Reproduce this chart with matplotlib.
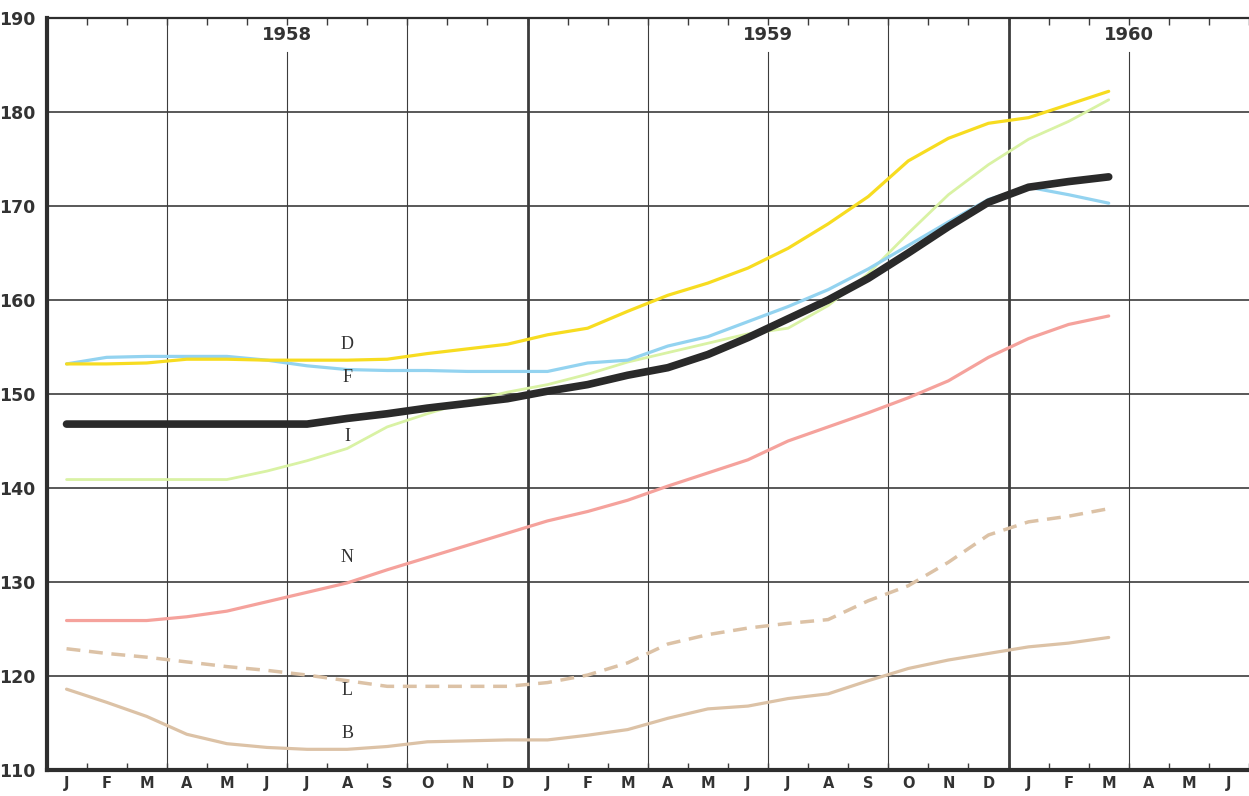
import matplotlib
matplotlib.use("Agg")
import matplotlib.pyplot as plt
import numpy as np

# month index 0 = Jan 1958
months = list("JFMAMJJASOND") * 2 + list("JFMAMJ")
years = ["1958", "1959", "1960"]
year_pos = [5.5, 17.5, 26.5]

x = np.arange(27)
total = [146.8, 146.8, 146.8, 146.8, 146.8, 146.8, 146.8, 147.4, 147.9, 148.5, 149.0, 149.5, 150.3, 151.0,
         152.0, 152.8, 154.2, 156.0, 158.0, 160.0, 162.3, 165.0, 167.8, 170.4, 172.0, 172.6, 173.1]
D = [153.2, 153.2, 153.3, 153.7, 153.7, 153.6, 153.6, 153.6, 153.7, 154.3, 154.8, 155.3, 156.3, 157.0,
     158.8, 160.5, 161.8, 163.4, 165.5, 168.1, 171.0, 174.8, 177.2, 178.8, 179.4, 180.8, 182.2]
F = [153.2, 153.9, 154.0, 154.0, 154.0, 153.6, 153.0, 152.6, 152.5, 152.5, 152.4, 152.4, 152.4, 153.3,
     153.6, 155.1, 156.1, 157.7, 159.3, 161.1, 163.3, 165.8, 168.3, 170.7, 172.0, 171.2, 170.3]
I = [140.9, 140.9, 140.9, 140.9, 140.9, 141.8, 142.9, 144.2, 146.5, 147.9, 149.2, 150.2, 151.0, 152.1,
     153.4, 154.4, 155.4, 156.4, 157.0, 159.4, 162.8, 167.1, 171.2, 174.4, 177.1, 179.0, 181.3]
N = [125.9, 125.9, 125.9, 126.3, 126.9, 127.9, 128.9, 129.9, 131.3, 132.6, 133.9, 135.2, 136.5, 137.5,
     138.7, 140.2, 141.6, 143.0, 145.0, 146.5, 148.0, 149.6, 151.4, 153.9, 155.9, 157.4, 158.3]
L = [122.9, 122.4, 122.0, 121.5, 121.0, 120.6, 120.1, 119.5, 118.9, 118.9, 118.9, 118.9, 119.3, 120.1,
     121.4, 123.4, 124.4, 125.1, 125.6, 126.0, 128.0, 129.6, 132.1, 135.0, 136.4, 137.0, 137.8]
B = [118.6, 117.2, 115.7, 113.8, 112.8, 112.4, 112.2, 112.2, 112.5, 113.0, 113.1, 113.2, 113.2, 113.7,
     114.3, 115.5, 116.5, 116.8, 117.6, 118.1, 119.5, 120.8, 121.7, 122.4, 123.1, 123.5, 124.1]

labels = ["D", "F", "I", "N", "L", "B"]
label_vals = [155.3, 151.8, 145.5, 132.6, 118.5, 113.9]

bold_font = ["Liberation Sans Narrow", "DejaVu Sans"]
grid_c = "#3c3c3c"

fig = plt.figure(figsize=(12.49, 7.96), dpi=100)
ax = fig.add_axes([46.5 / 1249, 1 - 770 / 796, 1 - 46.5 / 1249, (770 - 18) / 796])
ax.set_xlim(-0.5, 29.45)
ax.set_ylim(110, 190)

# grid
for v in range(120, 190, 10):
    ax.axhline(v, color=grid_c, lw=1.2, zorder=1)
for q in [2.5, 8.5, 14.5, 20.5]:
    ax.axvline(q, color=grid_c, lw=0.8, zorder=1)
for q in [11.5, 23.5]:
    ax.axvline(q, color=grid_c, lw=2.0, zorder=1)
for q, yr in zip(year_pos, years):
    ax.axvline(q, ymax=(186.4 - 110) / 80, color=grid_c, lw=0.8, zorder=1)
    ax.text(q, 188.2, yr, ha="center", va="center", fontsize=13, fontweight="bold",
            family=bold_font, color="#333333")

# series
ax.plot(x, I, color="#d9f2a4", lw=2.0, zorder=3, solid_capstyle="round")
ax.plot(x, F, color="#93d3f0", lw=2.3, zorder=4, solid_capstyle="round")
ax.plot(x, D, color="#f7dc20", lw=2.3, zorder=5, solid_capstyle="round")
ax.plot(x, N, color="#f5a29c", lw=2.3, zorder=4, solid_capstyle="round")
ax.plot(x, L, color="#dcc2a6", lw=2.5, ls=(0, (4, 2.5)), zorder=4)
ax.plot(x, B, color="#dcc2a6", lw=2.3, zorder=4, solid_capstyle="round")
ax.plot(x, total, color="#2a2a2a", lw=5.5, zorder=6, solid_capstyle="round")

for lab, v in zip(labels, label_vals):
    ax.text(7, v, lab, ha="center", va="center", fontsize=13, family="Liberation Serif",
            color="#333333", zorder=7)

# axes styling
for s in ["left", "bottom"]:
    ax.spines[s].set_linewidth(3.0)
    ax.spines[s].set_color("#2e2e2e")
ax.spines["top"].set_linewidth(1.6)
ax.spines["top"].set_color("#2e2e2e")
ax.spines["right"].set_visible(False)

ax.set_xticks(np.arange(30))
ax.set_xticklabels(months, fontsize=10.5, fontweight="bold", family=bold_font, color="#333333")
ax.set_xticks(np.arange(30) + 0.5, minor=True)
ax.tick_params(axis="x", which="major", length=0, pad=4)
ax.tick_params(axis="x", which="minor", direction="in", length=5, width=1, top=True, bottom=True,
               color=grid_c)

ax.set_yticks(range(110, 191, 10))
ax.set_yticklabels([str(v) for v in range(110, 191, 10)], fontsize=12.5, fontweight="bold",
                   family=bold_font, color="#333333")
ax.tick_params(axis="y", length=0, pad=8)

fig.savefig("out.png", dpi=100)
